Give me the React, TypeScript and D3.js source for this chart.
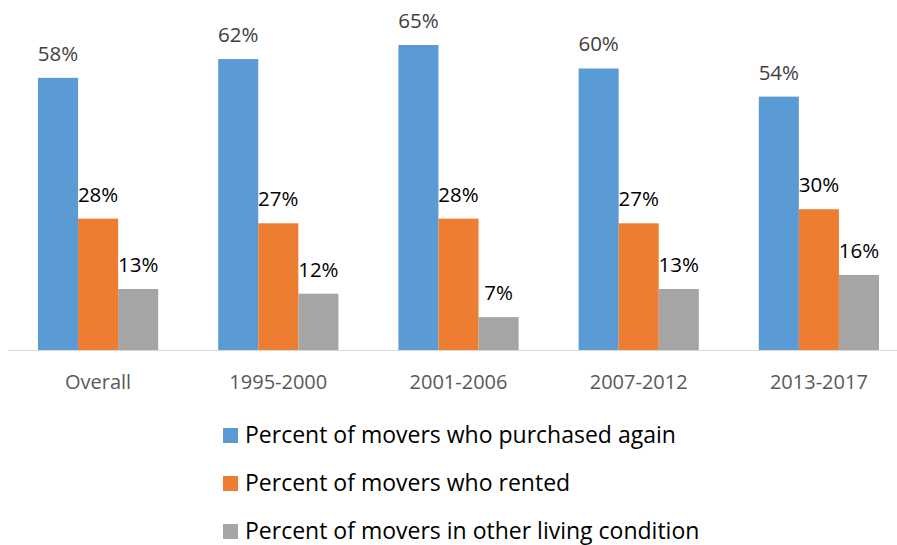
import * as d3 from 'd3';
import { useEffect, useRef } from 'react';

const categories = ['Overall', '1995-2000', '2001-2006', '2007-2012', '2013-2017'];
const seriesNames = [
  'Percent of movers who purchased again',
  'Percent of movers who rented',
  'Percent of movers in other living condition',
];
const purchasedAgain = [58, 62, 65, 60, 54];
const rented = [28, 27, 28, 27, 30];
const otherLiving = [13, 12, 7, 13, 16];
const seriesColors = ['#5b9bd5', '#ed7d31', '#a5a5a5'];
const labelColors = ['#404040', '#000000', '#000000'];

const FONT = '"Open Sans", sans-serif';

export default function App() {
  const ref = useRef<SVGSVGElement>(null);

  useEffect(() => {
    const width = 897;
    const height = 545;
    const svg = d3.select(ref.current);
    svg.selectAll('*').remove();
    svg.attr('width', width).attr('height', height).attr('viewBox', `0 0 ${width} ${height}`);

    const seriesValues = [purchasedAgain, rented, otherLiving];
    const baseline = 350;

    const x = d3.scaleBand<string>()
      .domain(categories)
      .range([8, 909])
      .paddingInner(0)
      .paddingOuter(0);

    const inner = d3.scaleBand<number>()
      .domain([0, 1, 2])
      .range([30, x.bandwidth() - 30]);

    const y = d3.scaleLinear().domain([0, 65]).range([baseline, 45]);

    // axis line
    svg.append('line')
      .attr('x1', 8)
      .attr('x2', width)
      .attr('y1', baseline + 0.5)
      .attr('y2', baseline + 0.5)
      .attr('stroke', '#d9d9d9')
      .attr('stroke-width', 1);

    const groups = svg.selectAll('g.group')
      .data(categories)
      .enter()
      .append('g')
      .attr('class', 'group')
      .attr('transform', (c) => `translate(${x(c)},0)`);

    seriesValues.forEach((values, si) => {
      groups.append('rect')
        .attr('x', inner(si) as number)
        .attr('y', (_, i) => y(values[i]))
        .attr('width', inner.bandwidth())
        .attr('height', (_, i) => baseline - y(values[i]))
        .attr('fill', seriesColors[si]);

      groups.append('text')
        .attr('x', (inner(si) as number) + inner.bandwidth() / 2)
        .attr('y', (_, i) => y(values[i]) - 17)
        .attr('text-anchor', 'middle')
        .style('font-family', FONT)
        .style('font-size', '20.5px')
        .style('fill', labelColors[si])
        .text((_, i) => `${values[i]}%`);
    });

    groups.append('text')
      .attr('x', x.bandwidth() / 2)
      .attr('y', 389)
      .attr('text-anchor', 'middle')
      .style('font-family', FONT)
      .style('font-size', '20px')
      .style('fill', '#595959')
      .text((c) => c);

    const legend = svg.selectAll('g.legend')
      .data(seriesNames)
      .enter()
      .append('g')
      .attr('class', 'legend')
      .attr('transform', (_, i) => `translate(223,${428 + i * 48})`);

    legend.append('rect')
      .attr('width', 15)
      .attr('height', 15)
      .attr('fill', (_, i) => seriesColors[i]);

    legend.append('text')
      .attr('x', 22)
      .attr('y', 15)
      .style('font-family', FONT)
      .style('font-size', '23px')
      .style('fill', '#000000')
      .text((d) => d);
  }, []);

  return (
    <svg
      ref={ref}
      style={{ position: 'absolute', left: 0, top: 0, display: 'block', background: '#ffffff' }}
    />
  );
}
